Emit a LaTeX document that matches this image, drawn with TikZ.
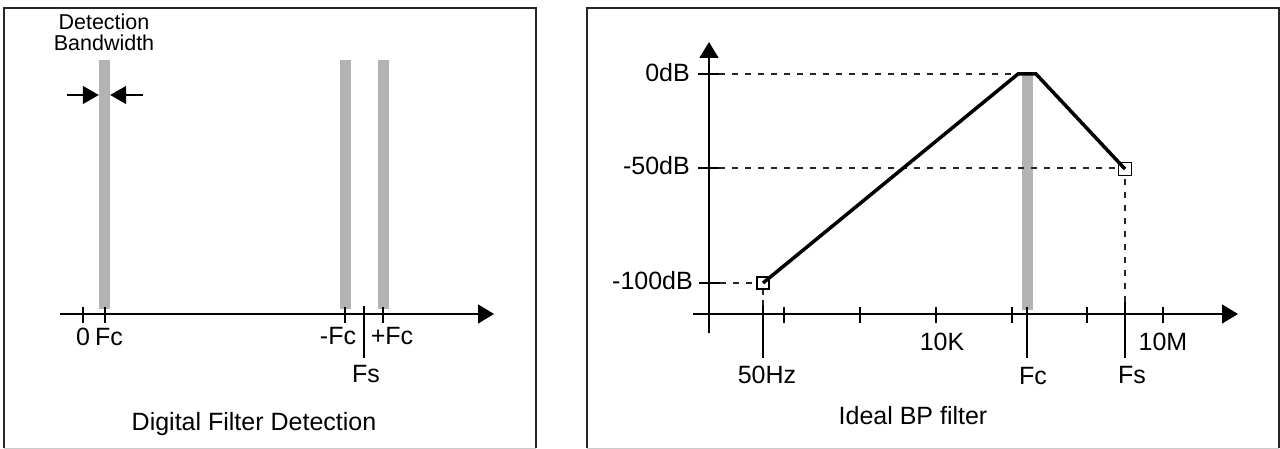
\documentclass[tikz,border=0pt]{standalone}
\usepackage{fontspec}
\setmainfont{Liberation Sans}
\usetikzlibrary{arrows.meta}
\definecolor{barg}{HTML}{B3B3B3}
\begin{document}
\begin{tikzpicture}[x=1pt,y=-1pt,
  lbl/.style={font=\fontsize{25}{29}\selectfont, inner sep=0pt, anchor=base},
  smalllbl/.style={font=\fontsize{21.5}{25}\selectfont, inner sep=0pt, anchor=base},
  bar/.style={fill=barg, draw=none, inner sep=0pt, minimum width=11pt},
  axisline/.style={line width=1.4pt, -{Triangle[length=16pt,width=19pt]}},
  bwarrow/.style={line width=1.4pt, -{Triangle[length=16pt,width=18pt]}},
  tickline/.style={line width=1.2pt},
  frameline/.style={line width=1.6pt, draw=black!85},
  guide/.style={line width=1.3pt, dash pattern=on 6pt off 7pt, draw=black!85},
  curve/.style={line width=3.5pt, line join=miter},
  marker/.style={draw, line width=1.2pt, minimum size=12pt, inner sep=0pt}
]
\useasboundingbox (0,0) rectangle (1280,449);
\fill[white] (0,0) rectangle (1280,449);

% ---------------- left panel ----------------
\draw[frameline] (4,448) -- (4,8) -- (536,8) -- (536,448);
\draw[black!20, line width=1pt] (4,448.5) -- (536,448.5);

\node[smalllbl] (det) at (104,30) {Detection};
\node[smalllbl] (bw) at (104,51) {Bandwidth};

\node[bar, minimum height=249pt] (b1) at (104.5,184.5) {};
\node[bar, minimum height=249pt] (b2) at (345,184.5) {};
\node[bar, minimum height=249pt] (b3) at (383,184.5) {};

\coordinate (al) at (67,95);
\coordinate (ar) at (143,95);
\draw[bwarrow] (al) -- (al -| b1.west);
\draw[bwarrow] (ar) -- (ar -| b1.east);

\coordinate (xa0) at (60,314);
\coordinate (xa1) at (494,314);
\draw[axisline] (xa0) -- (xa1);

\draw[tickline] (83,307) -- (83,323);
\draw[tickline] (105,307) -- (105,323);
\draw[tickline] (345,307) -- (345,323);
\draw[tickline] (383,307) -- (383,323);
\draw[tickline] (364,306) -- (364,358);

\node[lbl] (l0) at (83,345) {0};
\node[lbl] (lfc) at (109,345) {Fc};
\node[lbl] (lmfc) at (338,344) {-Fc};
\node[lbl] (lpfc) at (392,344) {+Fc};
\node[lbl] (lfs) at (366,382) {Fs};
\node[lbl] (ltitle) at (254,430) {Digital Filter Detection};

% ---------------- right panel ----------------
\draw[frameline] (587,448) -- (587,8) -- (1279,8) -- (1279,448);
\draw[black!20, line width=1pt] (587,448.5) -- (1279,448.5);

\node[bar, minimum height=236pt] (b4) at (1027.5,192) {};

\coordinate (ya0) at (709,333);
\coordinate (ya1) at (709,42);
\draw[axisline] (ya0) -- (ya1);
\coordinate (xb0) at (693,314);
\coordinate (xb1) at (1238,314);
\draw[axisline] (xb0) -- (xb1);

% dB ticks
\draw[tickline] (698,74) -- (719,74);
\draw[tickline] (698,168) -- (719,168);
\draw[tickline] (699,283) -- (720,283);

% markers and curve
\node[marker] (m1) at (763,283) {};
\node[marker, minimum size=13pt] (m2) at (1125,169) {};
\coordinate (pk1) at (1018,74);
\coordinate (pk2) at (1036,74);

% guides
\coordinate (g0) at (719,74);
\coordinate (g50) at (719,168);
\coordinate (g100) at (720,283);
\draw[guide] (g0) -- (pk1);
\draw[guide] (g50) -- (g50 -| m2.west);
\draw[guide] (g100) -- (g100 -| m1.west);
\coordinate (v1) at (763,305);
\coordinate (v2) at (1125,302);
\draw[guide, dash pattern=on 5pt off 5pt] (m1.south) -- (v1);
\draw[guide] (m2.south) ++(0,3) -- (v2);

\draw[curve] (m1.center) -- (pk1) -- (pk2) -- (m2.center);

% x ticks
\foreach \x in {784,860,936,1012,1087,1163}
  \draw[tickline] (\x,307) -- (\x,323);
\draw[tickline] (763,305) -- (763,358);
\draw[tickline] (1027,307) -- (1027,358);
\draw[tickline] (1125,302) -- (1125,358);

\node[lbl, anchor=base east] (l0db) at (690,82) {0dB};
\node[lbl, anchor=base east] (l50db) at (690,175) {-50dB};
\node[lbl, anchor=base east] (l100db) at (693,289) {-100dB};
\node[lbl] (l10k) at (942,350) {10K};
\node[lbl] (l10m) at (1163,350) {10M};
\node[lbl] (l50hz) at (767,383) {50Hz};
\node[lbl] (lfc2) at (1033,384) {Fc};
\node[lbl] (lfs2) at (1132,383) {Fs};
\node[lbl] (ltitle2) at (913,424) {Ideal BP filter};
\end{tikzpicture}
\end{document}
